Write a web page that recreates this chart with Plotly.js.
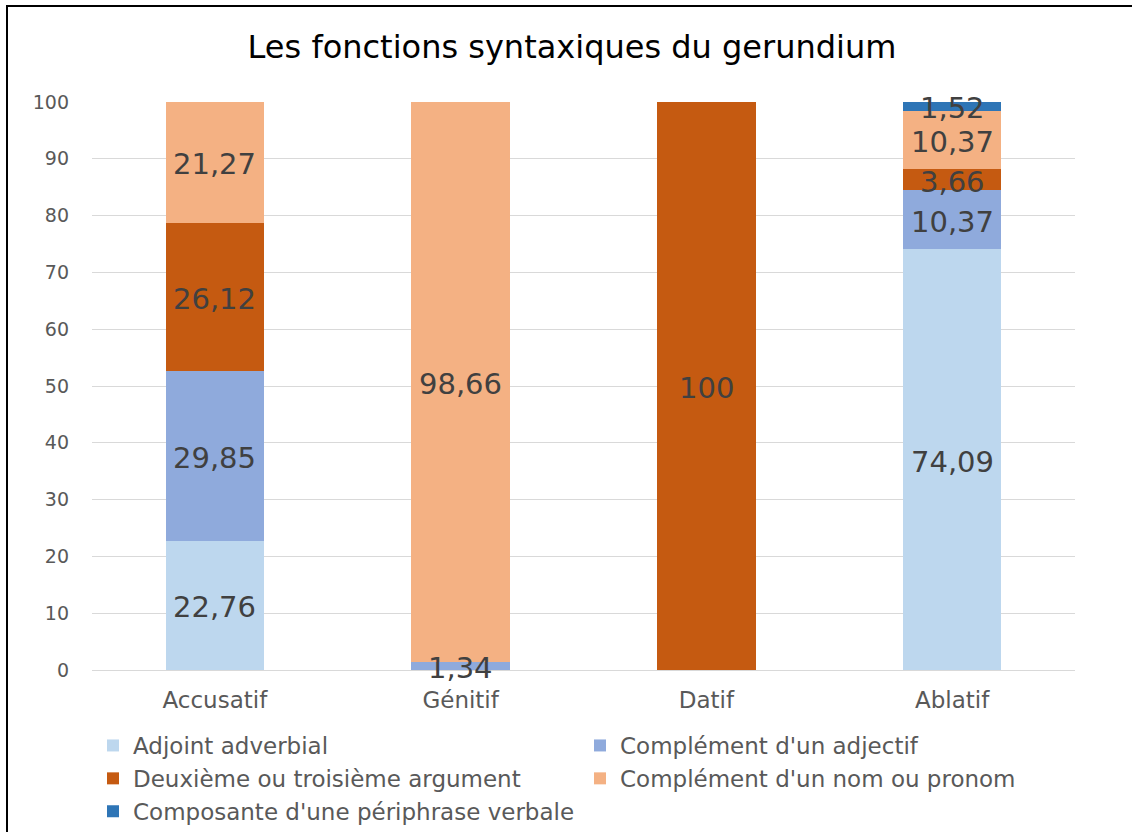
<!DOCTYPE html>
<html>
<head>
<meta charset="utf-8">
<script src="https://cdn.plot.ly/plotly-3.0.1.min.js"></script>
<style>
  html, body { margin: 0; padding: 0; background: #fff; }
  #wrap { position: relative; width: 1132px; height: 832px; overflow: hidden; }
  #chart { width: 1132px; height: 832px; }
  #frame { position: absolute; left: 6px; top: 5px; width: 1140px; height: 840px;
           border: 2px solid #000; pointer-events: none; box-sizing: border-box; }
</style>
</head>
<body>
<div id="wrap">
  <div id="chart"></div>
  <div id="frame"></div>
</div>
<script>
const categories = ['Accusatif', 'Génitif', 'Datif', 'Ablatif'];
const seriesNames = [
  'Adjoint adverbial',
  "Complément d'un adjectif",
  'Deuxième ou troisième argument',
  "Complément d'un nom ou pronom",
  "Composante d'une périphrase verbale"
];
const adjointAdverbial   = [22.76, 0,     0,   74.09];
const complementAdjectif = [29.85, 1.34,  0,   10.37];
const deuxiemeArgument   = [26.12, 0,     100, 3.66];
const complementNom      = [21.27, 98.66, 0,   10.37];
const composantePeriphr  = [0,     0,     0,   1.52];
const yTicks = [0, 10, 20, 30, 40, 50, 60, 70, 80, 90, 100];

const seriesValues = [adjointAdverbial, complementAdjectif, deuxiemeArgument, complementNom, composantePeriphr];
const colors = ['#BDD7EE', '#8FAADC', '#C55A11', '#F4B183', '#2E75B6'];
const FONT = 'DejaVu Sans, Verdana, sans-serif';

const fmt = v => String(v).replace('.', ',');

const traces = seriesValues.map((vals, i) => ({
  type: 'bar',
  name: seriesNames[i],
  x: categories,
  y: vals,
  marker: { color: colors[i], line: { width: 0 } },
  hoverinfo: 'skip'
}));

// Data labels drawn above all bars, centred in each stacked segment
const base = categories.map(() => 0);
const annotations = [];
seriesValues.forEach(vals => {
  vals.forEach((v, j) => {
    if (v > 0) {
      annotations.push({
        x: categories[j], y: base[j] + v / 2, xref: 'x', yref: 'y',
        text: fmt(v), showarrow: false, yshift: -2,
        xanchor: 'center', yanchor: 'middle',
        font: { family: FONT, size: 29, color: '#404040' }
      });
    }
    base[j] += v;
  });
});

const layout = {
  width: 1132,
  height: 832,
  barmode: 'stack',
  bargap: 0.6,
  paper_bgcolor: 'rgba(0,0,0,0)',
  plot_bgcolor: '#fff',
  margin: { l: 92, r: 57, t: 102, b: 162 },
  font: { family: FONT, color: '#595959' },
  title: {
    text: 'Les fonctions syntaxiques du gerundium',
    font: { family: FONT, size: 32, color: '#000' },
    x: 572 / 1132, xref: 'container', xanchor: 'center',
    y: 1 - 47 / 832, yref: 'container', yanchor: 'middle'
  },
  xaxis: {
    type: 'category',
    tickfont: { family: FONT, size: 23, color: '#595959' },
    showgrid: false,
    showline: false,
    ticks: '',
    ticklabelstandoff: 14
  },
  yaxis: {
    range: [0, 100],
    tickvals: yTicks,
    ticktext: yTicks.map(String),
    tickfont: { family: FONT, size: 19, color: '#595959' },
    showgrid: true,
    gridcolor: '#D9D9D9',
    gridwidth: 1,
    zeroline: true,
    zerolinecolor: '#D9D9D9',
    zerolinewidth: 1,
    showline: false,
    ticks: '',
    ticklabelstandoff: 22
  },
  annotations: annotations,
  showlegend: true,
  legend: {
    orientation: 'h',
    traceorder: 'normal',
    xref: 'container', yref: 'container',
    x: 93 / 1132, xanchor: 'left',
    y: 1 - 724 / 832, yanchor: 'top',
    font: { family: FONT, size: 23, color: '#595959' },
    entrywidth: 442,
    entrywidthmode: 'pixels',
    itemclick: false,
    itemdoubleclick: false,
    bgcolor: 'rgba(0,0,0,0)'
  }
};

Plotly.newPlot('chart', traces, layout, { displayModeBar: false, staticPlot: true });
</script>
</body>
</html>
